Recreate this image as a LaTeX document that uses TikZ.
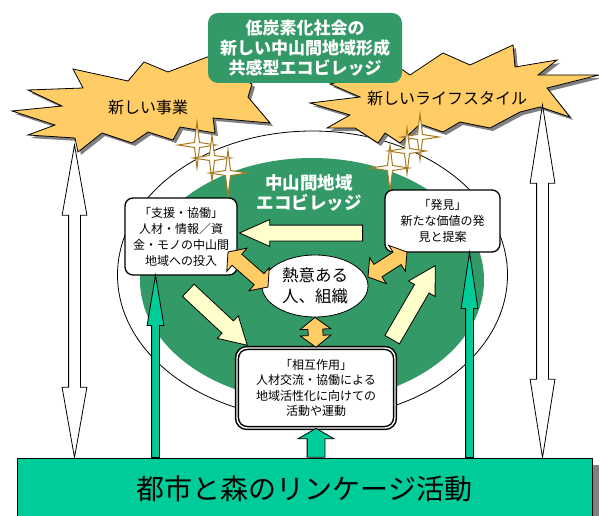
\documentclass[tikz,border=0pt]{standalone}
\usepackage{fontspec}
\setmainfont{Noto Sans CJK JP}
\usetikzlibrary{shapes.geometric, shapes.arrows, calc}

\definecolor{ecogreen}{HTML}{339966}
\definecolor{burstorange}{HTML}{FFCC66}
\definecolor{paleyellow}{HTML}{FFFFCC}
\definecolor{linkgreen}{HTML}{00CC99}
\definecolor{starline}{HTML}{A87A1E}

\tikzset{
  titlebox/.style={fill=ecogreen, rounded corners=10pt, text=white, align=center,
    minimum width=194pt, minimum height=70pt, inner sep=0pt,
    font=\bfseries\fontsize{17}{20}\selectfont},
  burst/.style={draw, fill=burstorange, line width=0.8pt},
  sparkle/.style={draw=starline, fill=white, line width=1pt, line join=miter},
  infobox/.style={draw, fill=white, rounded corners=8pt, line width=1.3pt, align=center,
    inner sep=0pt, font=\fontsize{12}{16}\selectfont},
  sogobox/.style={draw, double=white, double distance=1.4pt, line width=1.5pt, fill=white,
    rounded corners=10pt, align=center, inner sep=0pt, minimum width=158pt, minimum height=80pt,
    font=\fontsize{12}{15.5}\selectfont},
  core/.style={ellipse, draw, fill=white, line width=0.8pt, minimum width=106pt, minimum height=62pt,
    inner sep=0pt, align=center, font=\fontsize{16.5}{21}\selectfont},
  linkbar/.style={draw, fill=linkgreen, line width=0.8pt, minimum width=575pt, minimum height=62pt,
    inner sep=0pt, font=\fontsize{28}{30}\selectfont},
  sidearrow/.style={double arrow, draw, fill=white, line width=0.8pt, pos=0.5,
    inner xsep=0pt, inner ysep=5.5pt, double arrow head extend=6.5pt, double arrow tip angle=20},
  linkarrow/.style={single arrow, draw, fill=linkgreen, line width=0.8pt, anchor=tail,
    inner xsep=0pt, inner ysep=3.5pt, single arrow head extend=4.5pt, single arrow tip angle=19},
  fatlink/.style={single arrow, draw, fill=linkgreen, line width=0.8pt, anchor=tail,
    inner xsep=0pt, inner ysep=8.5pt, single arrow head extend=9pt, single arrow tip angle=120},
  flowarrow/.style={single arrow, draw, fill=paleyellow, line width=0.8pt, anchor=tail,
    inner xsep=0pt, inner ysep=8pt, single arrow head extend=7pt, single arrow tip angle=60},
  linkup/.style={double arrow, draw, fill=burstorange, line width=0.8pt, pos=0.5,
    inner xsep=0pt, inner ysep=7pt, double arrow head extend=8pt, double arrow tip angle=105}
}

% block arrow from #2 to #3
\newcommand{\fatarrow}[3]{%
  \path let \p1=($(#3)-(#2)$), \n1={veclen(\x1,\y1)} in
    (#2) -- node[pos=0, sloped, allow upside down, minimum height=\n1, #1] {} (#3);}

\def\leftburst{(12,111) -- (62,106) -- (28,90) -- (83,88) -- (73,69) -- (128,81) -- (144,62)
  -- (168,72) -- (210,56) -- (235,75) -- (252,84) -- (248,97) -- (270,123) -- (213,118)
  -- (215,133) -- (180,127) -- (173,140) -- (148,132) -- (132,143) -- (102,133) -- (78,152)
  -- (75,138) -- (28,135) -- (55,125) -- cycle}
\def\rightburst{(310,103) -- (360,97) -- (330,84) -- (400,68) -- (410,75) -- (443,53)
  -- (470,65) -- (513,45) -- (515,67) -- (557,60) -- (538,75) -- (599,75) -- (547,88)
  -- (570,117) -- (540,107) -- (520,112) -- (490,128) -- (460,122) -- (443,132) -- (420,124)
  -- (400,143) -- (385,133) -- (378,143) -- (355,128) -- (327,128) -- (350,115) -- cycle}

\begin{document}
\begin{tikzpicture}[x=1pt, y=-1pt]
  \useasboundingbox (0,0) rectangle (599,516);

  % village
  \draw[fill=white, line width=0.8pt] (312.5,275) ellipse [x radius=195, y radius=144];
  \fill[ecogreen] (312,280) ellipse [x radius=172, y radius=122];

  % bursts
  \fill[gray, shift={(3,3)}] \leftburst;
  \draw[burst] \leftburst;
  \fill[gray, shift={(3,3)}] \rightburst;
  \draw[burst] \rightburst;
  \node[font=\fontsize{16}{18}\selectfont] (jigyo) at (148,107) {新しい事業};
  \node[font=\fontsize{16}{18}\selectfont] (life) at (447,98) {新しいライフスタイル};

  \node[titlebox] (title) at (305,48) {低炭素化社会の\\新しい中山間地域形成\\共感型エコビレッジ};

  \foreach \c in {(197,145), (212,158), (228,173), (420,137), (407,151), (390,168)}
    \draw[sparkle] \c ++(0,-23) -- ++(2.5,20.5) -- ++(16.5,2.5) -- ++(-16.5,2.5) -- ++(-2.5,20.5)
      -- ++(-2.5,-20.5) -- ++(-16.5,-2.5) -- ++(16.5,-2.5) -- cycle;

  \node[text=white, align=center, font=\bfseries\fontsize{17.5}{20}\selectfont] (eco) at (309,193)
    {中山間地域\\エコビレッジ};

  \node[infobox, minimum width=112pt, minimum height=77pt] (shien) at (181,236.5)
    {「支援・協働」\\人材・情報／資\\金・モノの中山間\\地域への投入};
  \node[infobox, minimum width=115pt, minimum height=62pt] (hakken) at (442.5,221)
    {「発見」\\新たな価値の発\\見と提案};
  \node[core] (netsui) at (315,286) {熱意ある\\人、組織};
  \node[sogobox] (sogo) at (316,388) {「相互作用」\\人材交流・協働による\\地域活性化に向けての\\活動や運動};

  \node[linkbar] (bar) at (304.5,489) {都市と森のリンケージ活動};
  \fill[gray] (592.5,465) rectangle (599,516);

  % arrow ends
  \coordinate (wl) at (74.5,145);
  \coordinate (wr) at (542.5,105);
  \coordinate (gl) at (155.5,458);
  \coordinate (gr) at (469.5,458);
  \coordinate (f1) at (363,233);
  \coordinate (f2) at (240,233);
  \coordinate (f3) at (188,290);
  \coordinate (f4) at (247,345);
  \coordinate (f5) at (392,340);
  \coordinate (f6) at (435,266);
  \coordinate (o1) at (228,252);
  \coordinate (o2) at (268,287);
  \coordinate (o3) at (407,252);
  \coordinate (o4) at (368,277);

  \fatarrow{sidearrow}{wl}{wl |- bar.north}
  \fatarrow{sidearrow, double arrow tip angle=18}{wr}{wr |- bar.north}
  \fatarrow{linkarrow}{gl}{gl |- shien.south}
  \fatarrow{linkarrow, single arrow tip angle=17}{gr}{gr |- hakken.south}
  \fatarrow{fatlink}{bar.north -| sogo.south}{sogo.south}
  \fatarrow{flowarrow, single arrow tip angle=48, inner ysep=7.5pt, single arrow head extend=5.5pt}{f1}{f2}
  \fatarrow{flowarrow}{f3}{f4}
  \fatarrow{flowarrow}{f5}{f6}
  \fatarrow{linkup}{o1}{o2}
  \fatarrow{linkup}{o3}{o4}
  \fatarrow{linkup}{netsui.south}{sogo.north}

\end{tikzpicture}
\end{document}
